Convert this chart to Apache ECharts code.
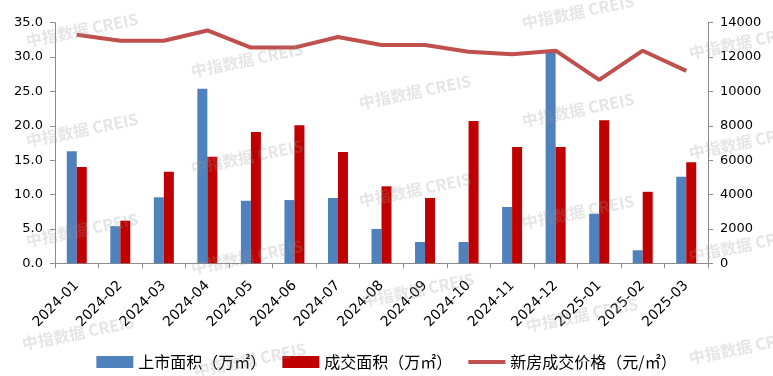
<!DOCTYPE html>
<html>
<head>
<meta charset="utf-8">
<script src="https://cdn.jsdelivr.net/npm/echarts@6/dist/echarts.min.js"></script>
<style>html,body{margin:0;padding:0;background:#fff}#c{width:773px;height:376px}</style>
</head>
<body>
<div id="c"></div>
<script>
var categories = ['2024-01','2024-02','2024-03','2024-04','2024-05','2024-06','2024-07','2024-08','2024-09','2024-10','2024-11','2024-12','2025-01','2025-02','2025-03'];
var listedArea = [16.3, 5.4, 9.6, 25.4, 9.1, 9.2, 9.5, 5.0, 3.1, 3.1, 8.2, 31.0, 7.2, 1.9, 12.6];
var soldArea = [14.0, 6.2, 13.3, 15.5, 19.1, 20.1, 16.2, 11.2, 9.5, 20.7, 16.9, 16.9, 20.8, 10.4, 14.7];
var price = [13300, 12950, 12950, 13550, 12550, 12550, 13170, 12700, 12700, 12310, 12160, 12370, 10670, 12370, 11200];
var seriesNames = ['上市面积（万㎡）', '成交面积（万㎡）', '新房成交价格（元/㎡）'];
var leftTicks = {min: 0, max: 35, interval: 5};
var rightTicks = {min: 0, max: 14000, interval: 2000};
var watermarkText = '中指数据 CREIS';
var watermarkSpots = [
  [82,30],[82,130],[82,230],[78,333],
  [247,60],[247,157],[247,257],[250,360],
  [415,92],[415,190],[418,290],
  [578,12],[578,110],[578,212],[582,315],
  [745,42],[745,142],[745,245],[745,347]
];

var chart = echarts.init(document.getElementById('c'), null, {renderer: 'canvas'});
var axisFont = 'DejaVu Sans';
var cjkFont = 'Noto Sans CJK SC';
var axisLineColor = '#8c8c8c';

var graphics = watermarkSpots.map(function (p) {
  return {
    type: 'text', x: p[0], y: p[1], rotation: 0.2, z: 100, silent: true,
    style: {text: watermarkText, fill: 'rgba(150,150,150,0.25)', font: 'bold 16px "' + cjkFont + '"', align: 'center', verticalAlign: 'middle'}
  };
});

chart.setOption({
  animation: false,
  backgroundColor: '#fff',
  grid: {left: 55, right: 65, top: 22.7, bottom: 112.7, containLabel: false},
  legend: {
    data: [
      {name: seriesNames[0], icon: 'rect'},
      {name: seriesNames[1], icon: 'rect'},
      {name: seriesNames[2], icon: 'path://M0,0H37V4H0Z'}
    ],
    top: 349, left: 'center',
    itemWidth: 37, itemHeight: 12, itemGap: 16,
    textStyle: {fontFamily: cjkFont, fontSize: 16, color: '#000'}
  },
  xAxis: {
    type: 'category', data: categories, boundaryGap: true,
    axisLine: {lineStyle: {color: axisLineColor}},
    axisTick: {show: true, length: 5, alignWithLabel: false, lineStyle: {color: axisLineColor}},
    axisLabel: {interval: 0, rotate: 45, margin: 20, fontFamily: axisFont, fontSize: 14, color: '#000'},
    splitLine: {show: false}
  },
  yAxis: [
    {
      type: 'value', min: leftTicks.min, max: leftTicks.max, interval: leftTicks.interval, position: 'left',
      axisLine: {show: true, lineStyle: {color: axisLineColor}},
      axisTick: {show: true, length: 5, lineStyle: {color: axisLineColor}},
      axisLabel: {margin: 12, fontFamily: axisFont, fontSize: 13, color: '#000', formatter: function (v) { return v.toFixed(1); }},
      splitLine: {show: false}
    },
    {
      type: 'value', min: rightTicks.min, max: rightTicks.max, interval: rightTicks.interval, position: 'right',
      axisLine: {show: true, lineStyle: {color: axisLineColor}},
      axisTick: {show: true, length: 5, lineStyle: {color: axisLineColor}},
      axisLabel: {margin: 12, fontFamily: axisFont, fontSize: 13, color: '#000', formatter: function (v) { return String(v); }},
      splitLine: {show: false}
    }
  ],
  series: [
    {name: seriesNames[0], type: 'bar', data: listedArea, yAxisIndex: 0, barWidth: 10, barGap: '0%', itemStyle: {color: '#4f81bd'}},
    {name: seriesNames[1], type: 'bar', data: soldArea, yAxisIndex: 0, barWidth: 10, barGap: '0%', itemStyle: {color: '#c00000'}},
    {name: seriesNames[2], type: 'line', data: price, yAxisIndex: 1, showSymbol: false, symbol: 'none', z: 5,
     lineStyle: {color: '#c0504d', width: 4}, itemStyle: {color: '#c0504d'}}
  ],
  graphic: graphics
});
</script>
</body>
</html>
